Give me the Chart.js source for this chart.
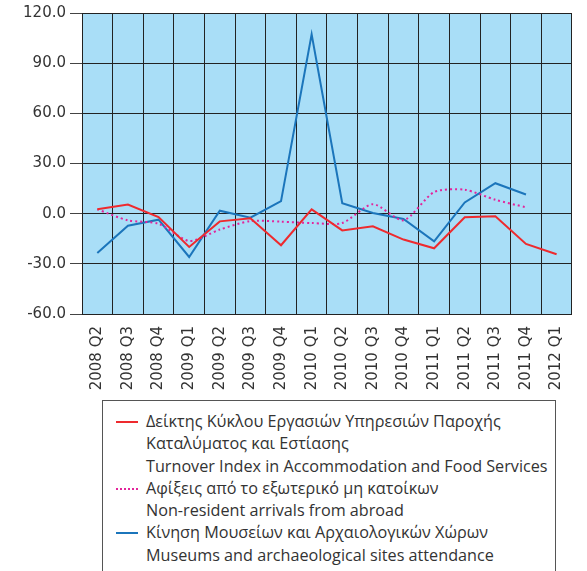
<!DOCTYPE html>
<html lang="el">
<head>
<meta charset="UTF-8" />
<title>Chart</title>
<script src="https://cdn.jsdelivr.net/npm/chart.js"></script>
<style>
  body { margin: 0; background: #fff; width: 587px; height: 571px; overflow: hidden; position: relative; }
  #chart { position: absolute; left: 0; top: 0; }
  #legend {
    position: absolute; left: 102px; top: 400px; width: 454px; height: 200px;
    border: 1px solid #555; box-sizing: border-box;
    font-family: "Open Sans", sans-serif; font-size: 16.2px; color: #333;
    padding-top: 9px;
  }
  .row { height: 22.3px; line-height: 22.3px; position: relative; padding-left: 43px; white-space: nowrap; }
  .sw { position: absolute; left: 13px; top: 11px; width: 22px; height: 0; }
</style>
</head>
<body>
<canvas id="chart" width="587" height="400"></canvas>
<div id="legend"></div>

<script>
    const labels = ["2008 Q2", "2008 Q3", "2008 Q4", "2009 Q1", "2009 Q2", "2009 Q3", "2009 Q4",
        "2010 Q1", "2010 Q2", "2010 Q3", "2010 Q4", "2011 Q1", "2011 Q2", "2011 Q3", "2011 Q4", "2012 Q1"];

    const turnover = [2.6, 5.5, -2.0, -19.9, -4.6, -2.8, -18.9, 2.6, -10.0, -7.6, -15.5, -20.7, -2.2, -1.6, -18.1, -24.3];
    const arrivals = [2.6, -4.0, -6.0, -16.3, -9.5, -4.4, -4.8, -5.6, -5.6, 5.7, -4.0, 12.9, 14.3, 8.3, 3.8, null];
    const museums = [-23.5, -7.2, -3.6, -25.9, 1.8, -2.4, 7.5, 107.3, 6.3, 0.4, -3.2, -16.5, 6.7, 18.2, 11.5, null];

    const yTicks = [-60, -30, 0, 30, 60, 90, 120];

    const legendItems = [
        { color: "#ee2a2e", dotted: false, lines: ["Δείκτης Κύκλου Εργασιών Υπηρεσιών Παροχής", "Καταλύματος και Εστίασης", "Turnover Index in Accommodation and Food Services"] },
        { color: "#e3249b", dotted: true, lines: ["Αφίξεις από το εξωτερικό μη κατοίκων", "Non-resident arrivals from abroad"] },
        { color: "#1b75bb", dotted: false, lines: ["Κίνηση Μουσείων και Αρχαιολογικών Χώρων", "Museums and archaeological sites attendance"] }
    ];

    // legend (html)
    const legend = document.getElementById("legend");
    legendItems.forEach(item => {
        item.lines.forEach((txt, i) => {
            const row = document.createElement("div");
            row.className = "row";
            row.textContent = txt;
            if (i === 0) {
                const sw = document.createElement("span");
                sw.className = "sw";
                sw.style.borderTop = `2px ${item.dotted ? "dotted" : "solid"} ${item.color}`;
                row.appendChild(sw);
            }
            legend.appendChild(row);
        });
    });

    const plotBg = {
        id: "plotBg",
        beforeDraw(chart) {
            const { ctx, chartArea: a } = chart;
            ctx.save();
            ctx.fillStyle = "#a9def7";
            ctx.fillRect(a.left, a.top, a.right - a.left, a.bottom - a.top);
            ctx.restore();
        }
    };

    const tickFont = { family: "DejaVu Sans", size: 15 };

    new Chart(document.getElementById("chart"), {
        type: "line",
        data: {
            labels: labels,
            datasets: [
                { data: turnover, borderColor: legendItems[0].color, borderWidth: 2, pointRadius: 0, tension: 0 },
                { data: arrivals, borderColor: legendItems[1].color, borderWidth: 2, borderDash: [2, 3], pointRadius: 0, tension: 0.25 },
                { data: museums, borderColor: legendItems[2].color, borderWidth: 2, pointRadius: 0, tension: 0 }
            ]
        },
        options: {
            responsive: false,
            animation: false,
            layout: { padding: { top: 12, right: 13, left: 0, bottom: 0 } },
            plugins: { legend: { display: false }, tooltip: { enabled: false } },
            scales: {
                x: {
                    offset: true,
                    grid: { offset: true, color: "#222", lineWidth: 1, drawTicks: false },
                    border: { color: "#222" },
                    ticks: { color: "#333", font: tickFont, minRotation: 90, maxRotation: 90, padding: 12, autoSkip: false },
                    afterFit(scale) { scale.height = 86; }
                },
                y: {
                    min: -60, max: 120,
                    afterBuildTicks(scale) { scale.ticks = yTicks.map(v => ({ value: v })); },
                    grid: { color: "#222", lineWidth: 1, tickLength: 12, tickColor: "#444" },
                    border: { color: "#222" },
                    ticks: { color: "#333", font: tickFont, padding: 4, callback: v => v.toFixed(1) },
                    afterFit(scale) { scale.width = 82; }
                }
            }
        },
        plugins: [plotBg]
    });
</script>
</body>
</html>
